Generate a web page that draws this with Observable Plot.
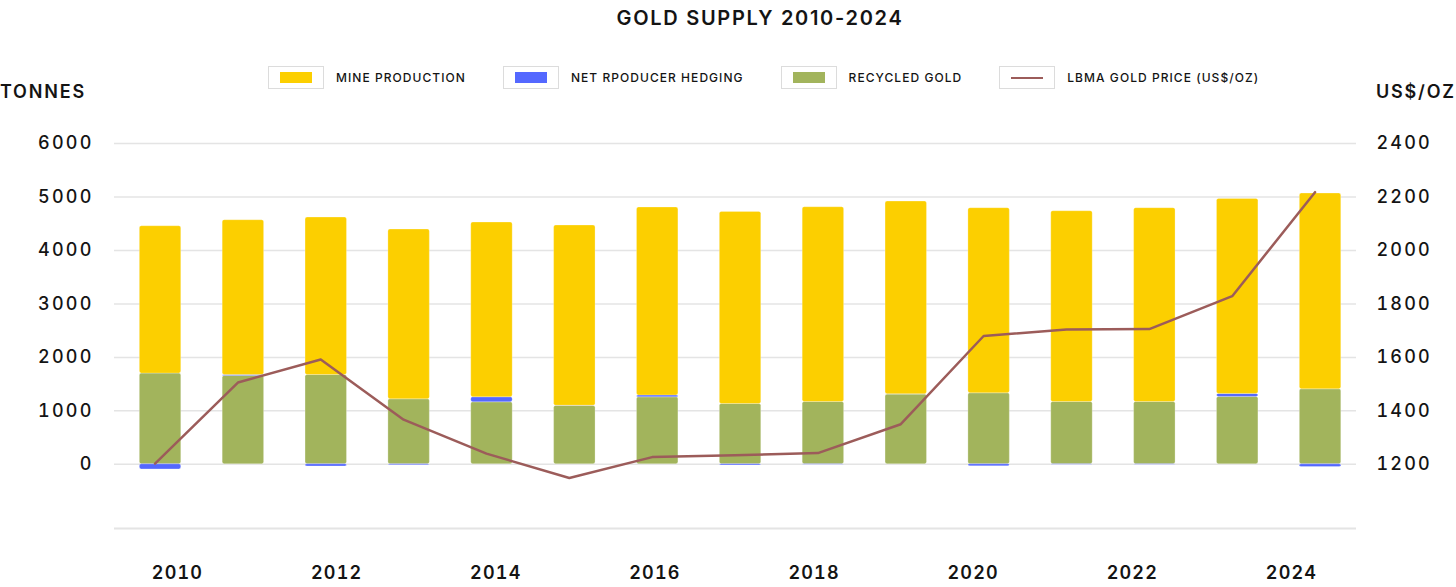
<!DOCTYPE html>
<html><head><meta charset="utf-8">
<script src="https://cdn.jsdelivr.net/npm/d3@7"></script>
<script src="https://cdn.jsdelivr.net/npm/@observablehq/plot@0.6"></script>
<style>
body{margin:0;background:#fff;font-family:Inter,"Noto Sans",sans-serif;color:#141414;}
#wrap{position:relative;width:1456px;height:587px;overflow:hidden;}
#header{position:relative;height:105px;}
#title{position:absolute;left:560px;width:400px;top:6px;text-align:center;font-size:20px;font-weight:600;letter-spacing:1.7px;}
#legend{position:absolute;left:268px;top:66px;display:flex;gap:37px;align-items:center;}
.item{display:flex;align-items:center;gap:12px;font-size:12px;font-weight:500;letter-spacing:1.05px;}
.box{width:54px;height:21px;border:1px solid #dcdcdc;display:flex;align-items:center;justify-content:center;}
.sw{width:32px;height:11px;}
.ln{width:32px;height:2px;}
.unit{position:absolute;top:81px;font-size:18px;font-weight:600;letter-spacing:1.8px;}
svg text{letter-spacing:2.2px;}
#xaxis svg text{letter-spacing:1.2px;}
</style>
</head><body>
<div id="wrap">
  <div id="header">
    <div id="title"></div>
    <div id="legend"></div>
    <div class="unit" id="uleft" style="left:0px"></div>
    <div class="unit" id="uright" style="left:1376px"></div>
  </div>
  <div id="main"></div>
  <div id="xaxis"></div>
</div>
<script>
const titleText = "GOLD SUPPLY 2010-2024";
const leftUnit = "TONNES";
const rightUnit = "US$/OZ";
const years = [2010,2011,2012,2013,2014,2015,2016,2017,2018,2019,2020,2021,2022,2023,2024];
const mineProduction = [2756,2893,2944,3175,3268,3370,3515,3593,3642,3604,3462,3567,3624,3648,3661];
const netHedging = [-95,20,-40,-15,94,5,35,-20,-10,6,-38,-10,-10,56,-50];
const recycledGold = [1697,1652,1671,1216,1160,1091,1253,1128,1166,1304,1328,1166,1166,1260,1403];
const goldPrice = [1203,1506,1592,1367,1240,1149,1227,1234,1242,1350,1680,1704,1706,1829,2218];
const seriesNames = ["MINE PRODUCTION","NET RPODUCER HEDGING","RECYCLED GOLD","LBMA GOLD PRICE (US$/OZ)"];
const seriesColors = ["#fccf00","#5468ff","#a2b45c","#9c5c5a"];
const leftTicks = [0,1000,2000,3000,4000,5000,6000];
const rightTicks = [1200,1400,1600,1800,2000,2200,2400];
const xTickYears = [2010,2012,2014,2016,2018,2020,2022,2024];

document.getElementById("title").textContent = titleText;
document.getElementById("uleft").textContent = leftUnit;
document.getElementById("uright").textContent = rightUnit;
const leg = document.getElementById("legend");
seriesNames.forEach((n,i)=>{
  const it = document.createElement("div"); it.className="item";
  const b = document.createElement("div"); b.className="box";
  const s = document.createElement("div"); s.className = i===3 ? "ln" : "sw"; s.style.background = seriesColors[i];
  b.appendChild(s); it.appendChild(b);
  const t = document.createElement("span"); t.textContent = n; it.appendChild(t);
  leg.appendChild(it);
});

// price axis maps onto tonnes axis: tonnes = (price - 1200) * 5
const p2t = p => (p - 1200) * 5;
const t2p = t => 1200 + t / 5;

const rows = [];
years.forEach((y,i)=>{
  rows.push({year:String(y), type:seriesNames[2], value:recycledGold[i]});
  rows.push({year:String(y), type:seriesNames[1], value:netHedging[i]});
  rows.push({year:String(y), type:seriesNames[0], value:mineProduction[i]});
});
const priceRows = years.map((y,i)=>({year:String(y), price:goldPrice[i]}));

const main = Plot.plot({
  width:1456, height:430,
  marginLeft:114, marginRight:100, marginTop:38, marginBottom:7,
  style:{fontFamily:"Inter, 'Noto Sans', sans-serif", fontSize:"18px", fontWeight:500, color:"#141414", background:"#fff"},
  x:{type:"band", domain:years.map(String), range:[97.9,1382.2], padding:0.5, round:false, axis:null},
  y:{domain:[-1200,6000], axis:null},
  color:{domain:seriesNames.slice(0,3), range:seriesColors.slice(0,3)},
  marks:[
    Plot.gridY(leftTicks, {stroke:"#e4e4e4", strokeOpacity:1, strokeWidth:1.5}),
    Plot.ruleY([-1200], {stroke:"#e4e4e4", strokeWidth:2}),
    Plot.barY(rows, {x:"year", y:"value", fill:"type", order:[seriesNames[2],seriesNames[1],seriesNames[0]], rx:2, stroke:"#fff", strokeOpacity:0.25, strokeWidth:1}),
    Plot.line(priceRows, {x:"year", y:d=>p2t(d.price), stroke:seriesColors[3], strokeWidth:2.5, dx:-5.5}),
    Plot.axisY(leftTicks, {anchor:"left", tickSize:0, tickPadding:21, label:null, tickFormat:d=>String(d), fontSize:18, fontWeight:500, fill:"#141414"}),
    Plot.axisY(rightTicks.map(p2t), {anchor:"right", tickSize:0, tickPadding:20, label:null, tickFormat:t=>String(t2p(t)), fontSize:18, fontWeight:500, fill:"#141414"})
  ]
});
document.getElementById("main").appendChild(main);

const xax = Plot.plot({
  width:1456, height:52,
  marginLeft:0, marginRight:0, marginTop:0, marginBottom:21,
  style:{fontFamily:"Inter, 'Noto Sans', sans-serif", fontSize:"18px", fontWeight:600, color:"#141414", background:"#fff"},
  x:{type:"linear", domain:[2010,2024], range:[177,1291]},
  y:{axis:null},
  marks:[
    Plot.axisX(xTickYears, {anchor:"bottom", tickSize:0, tickPadding:0, label:null, tickFormat:d=>String(d), fontSize:18, fontWeight:600, fill:"#141414"})
  ]
});
document.getElementById("xaxis").appendChild(xax);
</script>
</body></html>
